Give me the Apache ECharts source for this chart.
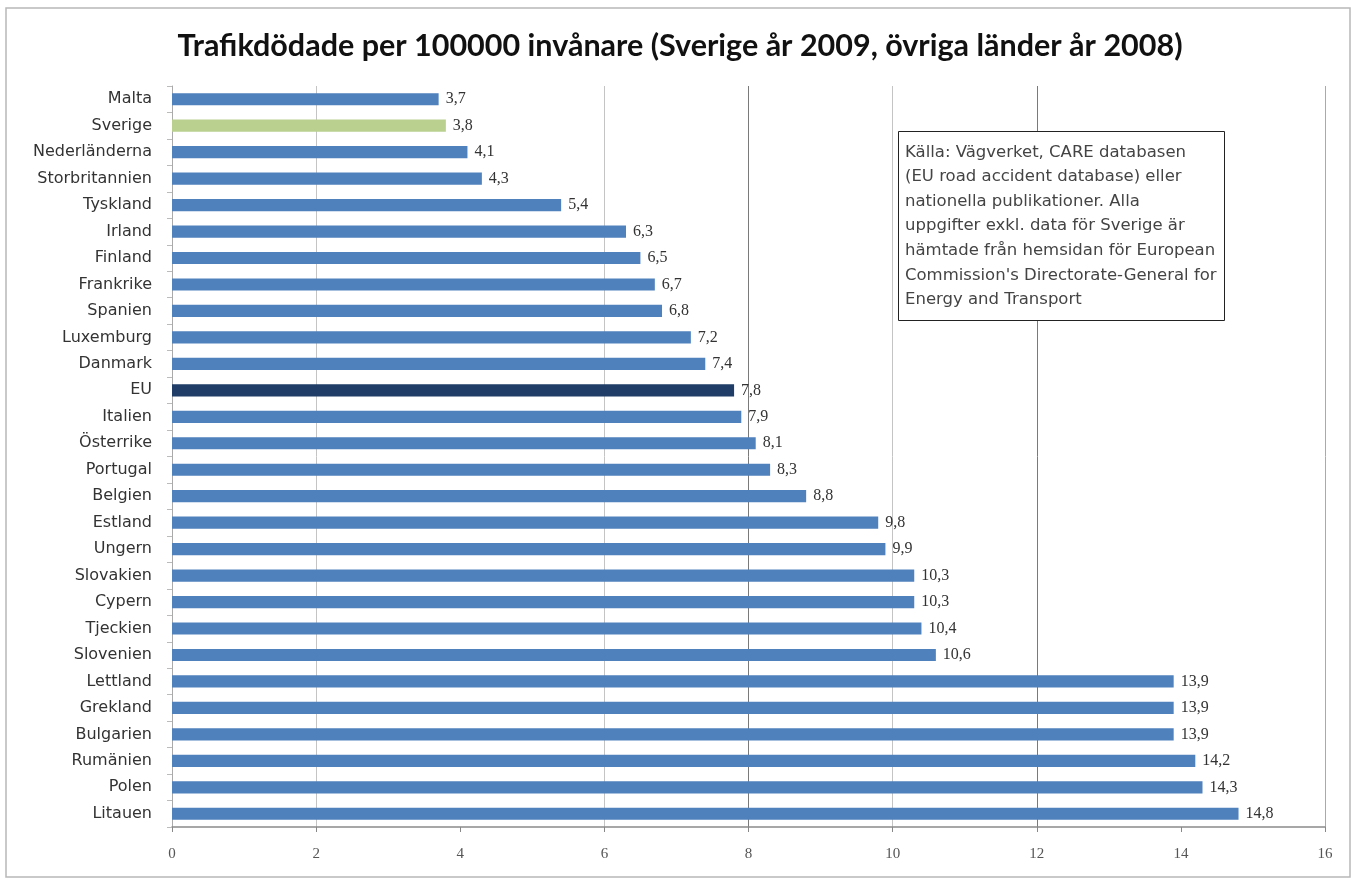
<!DOCTYPE html>
<html>
<head>
<meta charset="utf-8">
<script src="https://cdn.jsdelivr.net/npm/echarts@6/dist/echarts.min.js"></script>
<style>
  html, body { margin: 0; padding: 0; background: #fff; }
  #chart { width: 1360px; height: 882px; }
</style>
</head>
<body>
<div id="chart"></div>
<script>
// categories top to bottom
var countries = ['Malta', 'Sverige', 'Nederländerna', 'Storbritannien', 'Tyskland', 'Irland',
  'Finland', 'Frankrike', 'Spanien', 'Luxemburg', 'Danmark', 'EU', 'Italien', 'Österrike',
  'Portugal', 'Belgien', 'Estland', 'Ungern', 'Slovakien', 'Cypern', 'Tjeckien', 'Slovenien',
  'Lettland', 'Grekland', 'Bulgarien', 'Rumänien', 'Polen', 'Litauen'];
var deaths = [3.7, 3.8, 4.1, 4.3, 5.4, 6.3, 6.5, 6.7, 6.8, 7.2, 7.4, 7.8, 7.9, 8.1,
  8.3, 8.8, 9.8, 9.9, 10.3, 10.3, 10.4, 10.6, 13.9, 13.9, 13.9, 14.2, 14.3, 14.8];
var xTicks = [0, 2, 4, 6, 8, 10, 12, 14, 16];

var chartTitle = 'Trafikdödade per 100000 invånare (Sverige år 2009, övriga länder år 2008)';
var sourceNote = [
  'Källa: Vägverket, CARE databasen',
  '(EU road accident database) eller',
  'nationella publikationer. Alla',
  'uppgifter exkl. data för Sverige är',
  'hämtade från hemsidan för European',
  "Commission's Directorate-General for",
  'Energy and Transport'
];

var titleFont = 'Lato, "Open Sans", sans-serif';
var textFont = '"DejaVu Sans", sans-serif';
var numFont = '"Liberation Serif", serif';

function barColor(name) {
  if (name === 'Sverige') return '#b9d08f';
  if (name === 'EU') return '#1f3d66';
  return '#4f81bd';
}

var myChart = echarts.init(document.getElementById('chart'));
myChart.setOption({
  backgroundColor: '#fff',
  animation: false,
  title: [{
    text: chartTitle,
    left: 'center',
    top: 26,
    textStyle: { fontFamily: titleFont, fontSize: 30.5, fontWeight: 'bold', color: '#111' }
  }, {
    text: sourceNote.join('\n'),
    left: 898,
    top: 131,
    padding: [9, 8, 9, 7],
    borderColor: '#222',
    borderWidth: 1,
    backgroundColor: '#fff',
    textStyle: { fontFamily: textFont, fontSize: 16.5, fontWeight: 'normal', color: '#444', lineHeight: 24.6 }
  }],
  graphic: [{
    type: 'rect',
    shape: { x: 6, y: 8, width: 1344, height: 869 },
    style: { fill: 'none', stroke: '#b8b8b8', lineWidth: 1.5 },
    silent: true,
    z: -1
  }],
  grid: { left: 172, right: 35, top: 86, bottom: 55, containLabel: false },
  xAxis: {
    type: 'value',
    min: xTicks[0],
    max: xTicks[xTicks.length - 1],
    interval: 2,
    axisLine: { show: true, lineStyle: { color: '#8a8a8a', width: 1.5 } },
    axisTick: { show: true, length: 5, lineStyle: { color: '#888' } },
    axisLabel: { fontFamily: numFont, fontSize: 15, color: '#555', margin: 20 },
    splitLine: {
      show: true,
      lineStyle: {
        color: ['#999', '#c4c4c4', 'rgba(0,0,0,0)', '#c4c4c4', '#7a7a7a', '#c4c4c4', '#7a7a7a', 'rgba(0,0,0,0)', '#aaa'],
        width: 1
      }
    }
  },
  yAxis: {
    type: 'category',
    data: countries,
    inverse: true,
    axisLine: { show: true, lineStyle: { color: '#aaa' } },
    axisTick: { show: true, length: 5, lineStyle: { color: '#bbb' } },
    axisLabel: { fontFamily: textFont, fontSize: 16, color: '#333', margin: 20 }
  },
  series: [{
    type: 'bar',
    data: deaths,
    barCategoryGap: '54%',
    itemStyle: {
      color: function (p) { return barColor(p.name); }
    },
    label: {
      show: true,
      position: 'right',
      distance: 7,
      fontFamily: numFont,
      fontSize: 16,
      color: '#333',
      formatter: function (p) { return String(p.value).replace('.', ','); }
    }
  }]
});
</script>
</body>
</html>
